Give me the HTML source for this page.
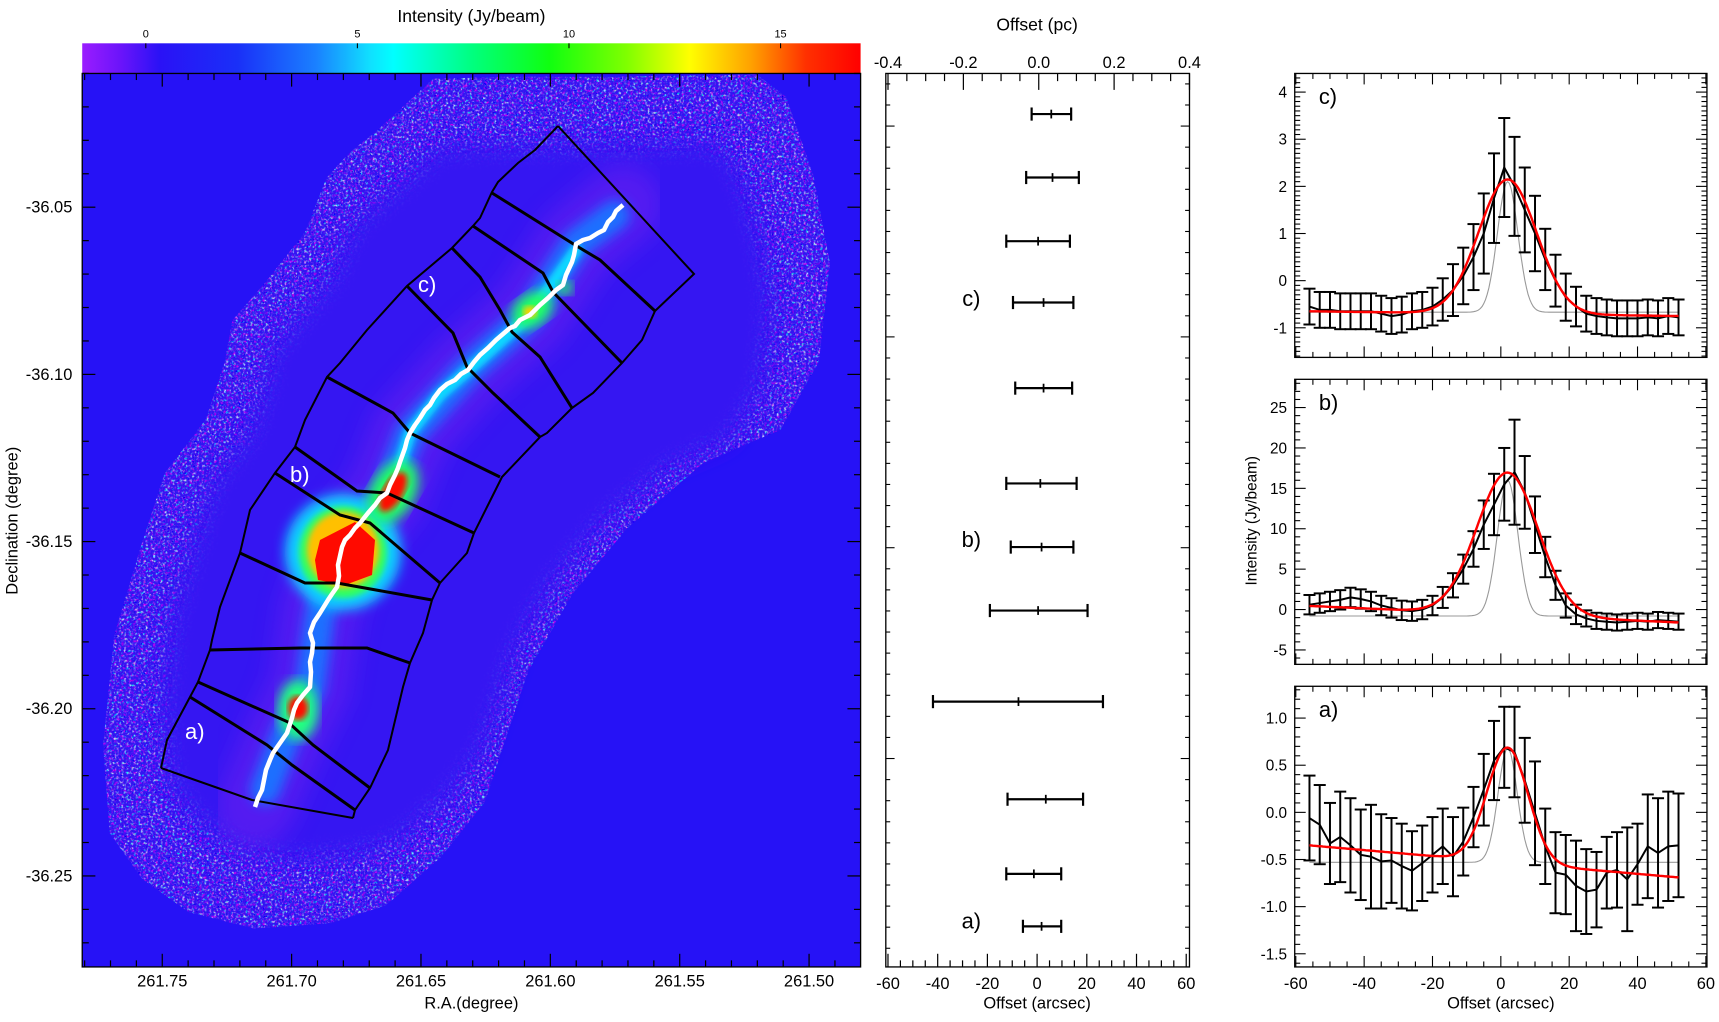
<!DOCTYPE html>
<html><head><meta charset="utf-8"><title>Filament profiles</title>
<style>
html,body{margin:0;padding:0;background:#fff;}
svg{display:block;font-family:"Liberation Sans",sans-serif;}
</style></head>
<body>
<svg id="root" width="1719" height="1022" xmlns="http://www.w3.org/2000/svg">
<defs>
  <clipPath id="mapclip"><rect x="82" y="74" width="779" height="893"/></clipPath>
  <filter id="noise" x="0" y="0" width="100%" height="100%" filterUnits="userSpaceOnUse">
    <feTurbulence type="fractalNoise" baseFrequency="0.45" numOctaves="2" seed="7" result="t"/>
    <feColorMatrix in="t" type="matrix" values="1.6 0 0 0 -0.55  0 2.4 0 0 -1.1  0 0 0.6 0 0.6  0 0 0 3.2 -1.3" result="c"/>
    <feComposite in="c" in2="SourceGraphic" operator="in"/>
  </filter>
  <filter id="b12"><feGaussianBlur stdDeviation="12"/></filter>
  <filter id="b6"><feGaussianBlur stdDeviation="6"/></filter>
  <filter id="b3"><feGaussianBlur stdDeviation="3"/></filter>
  <linearGradient id="cbar" x1="0" x2="1" y1="0" y2="0">
    <stop offset="0" stop-color="#9a1cff"/>
    <stop offset="0.05" stop-color="#6a14fa"/>
    <stop offset="0.1" stop-color="#2a12f6"/>
    <stop offset="0.2" stop-color="#1a30f8"/>
    <stop offset="0.3" stop-color="#1a80ff"/>
    <stop offset="0.37" stop-color="#10e0ff"/>
    <stop offset="0.4" stop-color="#00ffff"/>
    <stop offset="0.5" stop-color="#00ff80"/>
    <stop offset="0.6" stop-color="#10ff10"/>
    <stop offset="0.7" stop-color="#80ff00"/>
    <stop offset="0.78" stop-color="#ffff00"/>
    <stop offset="0.86" stop-color="#ffa000"/>
    <stop offset="0.93" stop-color="#ff3000"/>
    <stop offset="1" stop-color="#ff0000"/>
  </linearGradient>
</defs>

<g id="map" clip-path="url(#mapclip)">
  <rect x="82" y="74" width="779" height="893" fill="#2612f6"/>
  <g transform="scale(1.0963)">
    <path fill="#3214f2" d="M395,72 L345,118 L318,140 L298,162 L278,212 L240,260 L212,292 L205,330 L188,382 L150,432 L128,500 L104,580 L94,680 L100,760 L130,802 L172,832 L232,847 L302,842 L352,826 L402,782 L442,732 L462,672 L482,612 L522,542 L572,482 L642,422 L712,392 L747,330 L757,240 L742,160 L717,88 L690,68 L560,70 L460,70 Z"/>
    <path filter="url(#noise)" fill="#fff" d="M395,72 L345,118 L318,140 L298,162 L278,212 L240,260 L212,292 L205,330 L188,382 L150,432 L128,500 L104,580 L94,680 L100,760 L130,802 L172,832 L232,847 L302,842 L352,826 L402,782 L442,732 L462,672 L482,612 L522,542 L572,482 L642,422 L712,392 L747,330 L757,240 L742,160 L717,88 L690,68 L560,70 L460,70 Z"/>
    <path filter="url(#b12)" fill="#3516f2" transform="translate(430,460) scale(0.84) translate(-430,-460)" d="M395,72 L345,118 L318,140 L298,162 L278,212 L240,260 L212,292 L205,330 L188,382 L150,432 L128,500 L104,580 L94,680 L100,760 L130,802 L172,832 L232,847 L302,842 L352,826 L402,782 L442,732 L462,672 L482,612 L522,542 L572,482 L642,422 L712,392 L747,330 L757,240 L742,160 L717,88 L690,68 L560,70 L460,70 Z"/>
  </g>
  <g>
    <polyline filter="url(#b12)" fill="none" stroke="#7a20f0" stroke-width="80" stroke-linecap="round" opacity="0.45" points="623,205 576,244 530,315 468,370 410,433 387,493 342,547 320,613 310,687 287,733 255,807"/>
    <polyline filter="url(#b6)" fill="none" stroke="#1f70ff" stroke-width="30" stroke-linecap="round" points="615,215 576,244 530,315 468,370 410,433 387,493 342,547 320,613 310,687 287,733 265,790"/>
    <polyline filter="url(#b3)" fill="none" stroke="#10d8ff" stroke-width="12" stroke-linecap="round" points="576,250 530,315 480,360 440,395 410,433 395,480"/>
    <ellipse filter="url(#b6)" cx="343" cy="552" rx="58" ry="58" fill="#10d0ff"/>
    <ellipse filter="url(#b3)" cx="343" cy="552" rx="44" ry="46" fill="#30ff60"/>
    <ellipse filter="url(#b3)" cx="343" cy="550" rx="36" ry="38" fill="#ffc000"/>
    <polygon fill="#ff0a00" points="320,540 355,522 375,540 372,575 345,585 318,580 315,560"/>
    <ellipse filter="url(#b6)" cx="393" cy="492" rx="22" ry="34" fill="#20ff60" transform="rotate(30 393 492)"/>
    <ellipse filter="url(#b3)" cx="393" cy="492" rx="10" ry="22" fill="#ff1000" transform="rotate(30 393 492)"/>
    <ellipse filter="url(#b6)" cx="298" cy="710" rx="20" ry="30" fill="#20ff80"/>
    <ellipse filter="url(#b3)" cx="298" cy="708" rx="10" ry="12" fill="#ff1000"/>
    <ellipse filter="url(#b6)" cx="532" cy="310" rx="22" ry="16" fill="#20ff60" transform="rotate(-35 532 310)"/>
    <ellipse filter="url(#b3)" cx="530" cy="312" rx="7" ry="6" fill="#ffd000"/>
    <ellipse filter="url(#b6)" cx="565" cy="288" rx="8" ry="7" fill="#20ff60"/>
  </g>
  <g fill="none" stroke="#000" stroke-width="2">
    <polyline points="558,126 535,150 518,163 498,182 492,192 480,218 473,226 452,248 407,286 367,330 340,363 327,377 305,420 295,447 275,473 250,510 240,553 220,607 212,640 210,650 198,682 190,697 167,740 161,768"/>
    <polyline points="558,126 694,274 655,311 642,340 622,363 593,393 572,408 547,433 540,437 502,477 487,507 474,533 467,553 440,583 432,600 423,633 410,663 403,687 388,750 370,788 355,810 353,818"/>
    <g stroke-width="3">
      <polyline points="492,193 575,245 600,260 655,311"/>
      <polyline points="473,226 543,273 553,292 622,363"/>
      <polyline points="452,248 480,277 500,310 512,332 540,357 572,408"/>
      <polyline points="407,286 453,333 467,367 493,393 540,437"/>
      <polyline points="327,377 393,413 410,433 500,477"/>
      <polyline points="295,447 357,491 387,493 474,533"/>
      <polyline points="275,473 340,515 370,523 440,583"/>
      <polyline points="240,553 305,583 337,583 432,600"/>
      <polyline points="210,650 300,648 367,648 410,663"/>
      <polyline points="198,682 288,722 313,745 370,788"/>
      <polyline points="190,697 267,745 292,765 355,810"/>
    </g>
    <polyline points="161,768 252,800 353,818"/>
  </g>
  <polyline fill="none" stroke="#fff" stroke-width="4.5" stroke-linejoin="round" points="623,205 616,211 613,217 608,222 604,230 598,233 590,238 583,240 576,244 574,255 572,262 566,275 563,285 556,290 548,298 540,305 530,315 520,320 515,326 510,328 503,334 496,340 488,348 480,355 474,362 468,370 461,374 455,380 447,384 440,390 434,398 430,405 425,410 420,418 415,425 410,433 407,440 405,448 400,462 398,468 395,475 390,485 387,493 380,498 375,505 368,513 360,523 355,528 350,535 345,540 342,547 340,556 338,565 339,576 337,587 332,594 328,600 320,613 314,622 310,633 313,643 312,653 310,662 311,672 310,687 303,695 297,703 294,710 292,718 287,733 280,743 273,753 270,760 266,770 264,780 262,790 258,798 255,807"/>
  <text x="418" y="292" font-size="22" fill="#fff">c)</text>
  <text x="290" y="482" font-size="22" fill="#fff">b)</text>
  <text x="185" y="739" font-size="22" fill="#fff">a)</text>
</g>

<g id="disp" transform="scale(1.0963)">
  <rect x="75" y="39.5" width="710" height="27.5" fill="url(#cbar)"/>
  <text x="430" y="20" font-size="16" text-anchor="middle">Intensity (Jy/beam)</text>
  <rect x="75" y="67" width="710" height="815" fill="none" stroke="#000" stroke-width="1.2"/>
  <text x="430" y="920" font-size="15" text-anchor="middle">R.A.(degree)</text>
  <text transform="translate(16,475) rotate(-90)" font-size="15" text-anchor="middle">Declination (degree)</text>

  <rect x="808" y="67" width="277" height="815" fill="none" stroke="#000" stroke-width="1.2"/>
  <text x="946" y="28" font-size="16" text-anchor="middle">Offset (pc)</text>
  <text x="946" y="920" font-size="15" text-anchor="middle">Offset (arcsec)</text>

  <text transform="translate(1146,475) rotate(-90)" font-size="14" text-anchor="middle">Intensity (Jy/beam)</text>
  <text x="1369" y="920" font-size="15" text-anchor="middle">Offset (arcsec)</text>
</g>

<script>
// ---------- data ----------
const cbarTicks = [0, 5, 10, 15];
const raTicks = [261.75, 261.70, 261.65, 261.60, 261.55, 261.50];
const decTicks = [-36.05, -36.10, -36.15, -36.20, -36.25];
const arcTicks = [-60, -40, -20, 0, 20, 40, 60];
const pcTicks = [-0.4, -0.2, 0.0, 0.2, 0.4];
const stripPos = [-0.057, 0.244, 0.546, 0.837, 1.243, 1.695, 1.997, 2.298, 2.730, 3.193, 3.547, 3.796];
const offCenter = [5.7, 6.2, 0.4, 2.6, 2.6, 1.3, 1.8, 0.4, -7.5, 3.5, -1.3, 1.8];
const offLow = [-2.2, -4.4, -12.4, -9.7, -8.8, -12.4, -10.6, -19.0, -41.9, -11.9, -12.4, -5.7];
const offHigh = [13.7, 16.8, 13.2, 14.6, 14.1, 15.9, 14.6, 20.3, 26.5, 18.5, 9.7, 9.7];
const stripLabels = ["c)", "b)", "a)"];
const stripLabelPos = [0.816, 1.96, 3.77];

const profX = [-56,-53,-50,-47,-44,-41,-38,-35,-32,-29,-26,-23,-20,-17,-14,-11,-8,-5,-2,1,4,7,10,13,16,19,22,25,28,31,34,37,40,43,46,49,52];
const cVals = [-0.55,-0.62,-0.62,-0.65,-0.65,-0.65,-0.65,-0.7,-0.75,-0.72,-0.65,-0.62,-0.55,-0.4,-0.2,0.1,0.5,1.0,1.75,2.4,2.0,1.5,1.0,0.45,0.0,-0.35,-0.55,-0.7,-0.75,-0.78,-0.8,-0.8,-0.8,-0.78,-0.8,-0.75,-0.78];
const cErr = [0.38,0.38,0.38,0.38,0.38,0.38,0.38,0.38,0.38,0.38,0.38,0.38,0.4,0.45,0.55,0.6,0.7,0.85,0.95,1.05,1.05,0.9,0.8,0.65,0.55,0.5,0.42,0.38,0.38,0.38,0.38,0.38,0.38,0.38,0.38,0.38,0.38];
const bVals = [0.6,0.8,1.0,1.2,1.5,1.3,1.0,0.5,0.2,-0.1,-0.2,0,0.5,1.5,3,5,7.5,10.5,13,15.5,17,14.5,10.5,6.5,3,0.5,-0.6,-1.1,-1.4,-1.5,-1.6,-1.5,-1.4,-1.5,-1.3,-1.4,-1.5];
const bErr = [1.2,1.2,1.2,1.2,1.2,1.2,1.2,1.2,1.2,1.2,1.2,1.2,1.2,1.3,1.5,1.8,2.2,3,3.8,4.5,6.5,4.5,3.5,2.5,1.8,1.5,1.2,1.0,1.0,1.0,1.0,1.0,1.0,1.0,1.0,1.0,1.0];
const aVals = [-0.06,-0.13,-0.33,-0.26,-0.35,-0.45,-0.47,-0.52,-0.51,-0.57,-0.62,-0.54,-0.45,-0.36,-0.47,-0.31,-0.05,0.24,0.55,0.69,0.64,0.34,-0.01,-0.36,-0.64,-0.66,-0.78,-0.84,-0.82,-0.64,-0.61,-0.71,-0.55,-0.36,-0.43,-0.36,-0.35];
const aErr = [0.45,0.42,0.43,0.48,0.5,0.48,0.55,0.5,0.45,0.45,0.42,0.4,0.4,0.4,0.42,0.36,0.32,0.38,0.42,0.43,0.48,0.45,0.55,0.4,0.43,0.42,0.48,0.45,0.4,0.38,0.4,0.55,0.43,0.55,0.58,0.58,0.55];
const fitAmp = [2.85, 17.6, 1.22];
const fitCen = [2, 2, 2];
const fitSig = [8.5, 9.0, 6.0];
const fitBaseL = [-0.65, 0.45, -0.35];
const fitBaseR = [-0.75, -1.6, -0.69];
const beamPeak = [2.1, 16.0, 0.68];
const beamBase = [-0.67, -0.8, -0.53];
const beamSig = [3.0, 3.0, 2.8];

// ---------- helpers ----------
const NS = "http://www.w3.org/2000/svg";
const D = document.getElementById('disp');
function mk(tag, attrs, parent) {
  const e = document.createElementNS(NS, tag);
  for (const k in attrs) e.setAttribute(k, attrs[k]);
  (parent || D).appendChild(e);
  return e;
}
function line(x1, y1, x2, y2, w, col, parent) {
  return mk('line', {x1: x1, y1: y1, x2: x2, y2: y2, stroke: col || '#000', 'stroke-width': w || 1.2}, parent);
}
function fmt(v, d) { return v.toFixed(d); }

// ---------- colorbar ----------
const cbX = v => 133 + v * 38.6;
for (const v of cbarTicks) {
  const t = mk('text', {x: cbX(v), y: 34, 'font-size': 10, 'text-anchor': 'middle'});
  t.textContent = String(v);
  
  
  const tk = line(cbX(v), 39.5, cbX(v), 44, 1);
  
  
}

// ---------- map axes ----------
const xRA = ra => 148 + (261.75 - ra) * 2360;
const yDec = d => 189 + (-36.05 - d) * 3050;
for (let i = 0; i <= 30; i++) {
  const ra = 261.78 - i * 0.01;
  const x = xRA(ra);
  if (x < 75 || x > 785) continue;
  const major = Math.abs(Math.round(ra * 100) % 5) === 0;
  const L = major ? 12 : 6;
  const t1 = line(x, 882, x, 882 - L, 1.1);
  
  
  const t2 = line(x, 67, x, 67 + L, 1.1);
  
  
}
for (const ra of raTicks) {
  const t = mk('text', {x: xRA(ra), y: 900, 'font-size': 15, 'text-anchor': 'middle'});
  t.textContent = fmt(ra, 2);
  
  
}
for (let i = 0; i <= 27; i++) {
  const d = -36.01 - i * 0.01;
  const y = yDec(d);
  if (y < 67 || y > 882) continue;
  const major = Math.abs(Math.round(d * 100) % 5) === 0;
  const L = major ? 12 : 6;
  const t1 = line(75, y, 75 + L, y, 1.1);
  
  
  const t2 = line(785, y, 785 - L, y, 1.1);
  
  
}
for (const d of decTicks) {
  const t = mk('text', {x: 66, y: yDec(d) + 5, 'font-size': 15, 'text-anchor': 'end'});
  t.textContent = fmt(d, 2);
  
  
}

// ---------- middle offset panel ----------
const xArc = a => 946 + a * 2.267;
const xPc = p => 810 + (p + 0.4) / 0.8 * 275;
const yStrip = s => 115 + s * 192.3;
for (let a = -60; a <= 60; a += 5) {
  const major = a % 20 === 0;
  const tk = line(xArc(a), 882, xArc(a), 882 - (major ? 12 : 6), 1.1);
  
  
}
for (const a of arcTicks) {
  const t = mk('text', {x: xArc(a), y: 902, 'font-size': 15, 'text-anchor': 'middle'});
  t.textContent = String(a);
  
  
}
for (let k = 0; k <= 16; k++) {
  const p = -0.4 + k * 0.05;
  const major = k % 4 === 0;
  const tk = line(xPc(p), 67, xPc(p), 67 + (major ? 15 : 7), 1.1);
  
  
}
for (const p of pcTicks) {
  const t = mk('text', {x: xPc(p), y: 62, 'font-size': 15, 'text-anchor': 'middle'});
  t.textContent = fmt(p, 1);
  
  
}
for (let k = -2; k <= 40; k++) {
  const y = yStrip(k / 10);
  if (y < 68 || y > 881) continue;
  const major = k % 10 === 0;
  const L = major ? 8 : 4;
  const t1 = line(808, y, 808 + L, y, 1);
  
  
  const t2 = line(1085, y, 1085 - L, y, 1);
  
  
}
for (let i = 0; i < stripPos.length; i++) {
  const y = yStrip(stripPos[i]);
  const g = mk('g', {});
  
  
  line(xArc(offLow[i]), y, xArc(offHigh[i]), y, 2, '#000', g);
  line(xArc(offLow[i]), y - 6, xArc(offLow[i]), y + 6, 2, '#000', g);
  line(xArc(offHigh[i]), y - 6, xArc(offHigh[i]), y + 6, 2, '#000', g);
  line(xArc(offCenter[i]), y - 4, xArc(offCenter[i]), y + 4, 1.6, '#000', g);
}
for (let i = 0; i < stripLabels.length; i++) {
  const t = mk('text', {x: 886, y: yStrip(stripLabelPos[i]) + 7, 'font-size': 20, 'text-anchor': 'middle'});
  t.textContent = stripLabels[i];
  
  
}

// ---------- right profile panels ----------
const px0 = 1181, px1 = 1557;
const xP = a => 1369 + a * 3.117;
const panels = [
  {name: 'c', top: 67, bot: 326, zero: 256, k: 43, major: 1, minor: 0.1, dec: 0, ticks: [-1, 0, 1, 2, 3, 4], vals: cVals, err: cErr, label: 'c)'},
  {name: 'b', top: 346, bot: 606, zero: 556, k: 7.37, major: 5, minor: 1, dec: 0, ticks: [-5, 0, 5, 10, 15, 20, 25], vals: bVals, err: bErr, label: 'b)'},
  {name: 'a', top: 626, bot: 882, zero: 741, k: 86, major: 0.5, minor: 0.1, dec: 1, ticks: [-1.5, -1.0, -0.5, 0.0, 0.5, 1.0], vals: aVals, err: aErr, label: 'a)'}
];
panels.forEach((p, pi) => {
  const yv = v => p.zero - v * p.k;
  const grp = mk('g', {});
  
  
  const fr = mk('rect', {x: px0, y: p.top, width: px1 - px0, height: p.bot - p.top, fill: 'none', stroke: '#000', 'stroke-width': 1.2}, grp);
  
  
  for (let a = -60; a <= 60; a += 5) {
    const major = a % 20 === 0;
    const L = major ? 10 : 5;
    const t1 = line(xP(a), p.bot, xP(a), p.bot - L, 1, '#000', grp);
    
    
    const t2 = line(xP(a), p.top, xP(a), p.top + L, 1, '#000', grp);
    
    
  }
  const nLo = Math.ceil((p.zero - p.bot) / p.k / p.minor);
  const nHi = Math.floor((p.zero - p.top) / p.k / p.minor);
  for (let n = nLo; n <= nHi; n++) {
    const v = n * p.minor;
    const y = yv(v);
    const isMajor = Math.abs(v / p.major - Math.round(v / p.major)) < 1e-6;
    const L = isMajor ? 10 : 5;
    const t1 = line(px0, y, px0 + L, y, 1, '#000', grp);
    
    
    const t2 = line(px1, y, px1 - L, y, 1, '#000', grp);
    
    
  }
  for (const v of p.ticks) {
    const t = mk('text', {x: 1174, y: yv(v) + 5, 'font-size': 14, 'text-anchor': 'end'}, grp);
    t.textContent = fmt(v, p.dec);
    
    
  }
  const lab = mk('text', {x: 1203, y: p.top + 28, 'font-size': 20}, grp);
  lab.textContent = p.label;
  
  
  let gpts = [], rpts = [];
  for (let a = -56; a <= 52; a += 0.5) {
    const gb = beamBase[pi] + (beamPeak[pi] - beamBase[pi]) * Math.exp(-Math.pow(a - fitCen[pi], 2) / (2 * beamSig[pi] * beamSig[pi]));
    gpts.push(xP(a).toFixed(1) + ',' + yv(gb).toFixed(1));
    const base = fitBaseL[pi] + (fitBaseR[pi] - fitBaseL[pi]) * (a + 56) / 108;
    const rf = base + fitAmp[pi] * Math.exp(-Math.pow(a - fitCen[pi], 2) / (2 * fitSig[pi] * fitSig[pi]));
    rpts.push(xP(a).toFixed(1) + ',' + yv(rf).toFixed(1));
  }
  const gl = mk('polyline', {points: gpts.join(' '), fill: 'none', stroke: '#999', 'stroke-width': 1}, grp);
  
  
  for (let i = 0; i < profX.length; i++) {
    const x = xP(profX[i]);
    const eb = mk('g', {}, grp);
    
    
    const y1 = yv(p.vals[i] - p.err[i]), y2 = yv(p.vals[i] + p.err[i]);
    line(x, y1, x, y2, 1.8, '#000', eb);
    line(x - 5.5, y1, x + 5.5, y1, 1.8, '#000', eb);
    line(x - 5.5, y2, x + 5.5, y2, 1.8, '#000', eb);
  }
  const dpts = profX.map((a, i) => xP(a).toFixed(1) + ',' + yv(p.vals[i]).toFixed(1)).join(' ');
  const dl = mk('polyline', {points: dpts, fill: 'none', stroke: '#000', 'stroke-width': 1.8}, grp);
  
  
  const rl = mk('polyline', {points: rpts.join(' '), fill: 'none', stroke: '#ff0000', 'stroke-width': 2.2}, grp);
  
  
});
for (const a of arcTicks) {
  const t = mk('text', {x: xP(a), y: 902, 'font-size': 15, 'text-anchor': 'middle'});
  t.textContent = String(a);
  
  
}
</script>
</body></html>
